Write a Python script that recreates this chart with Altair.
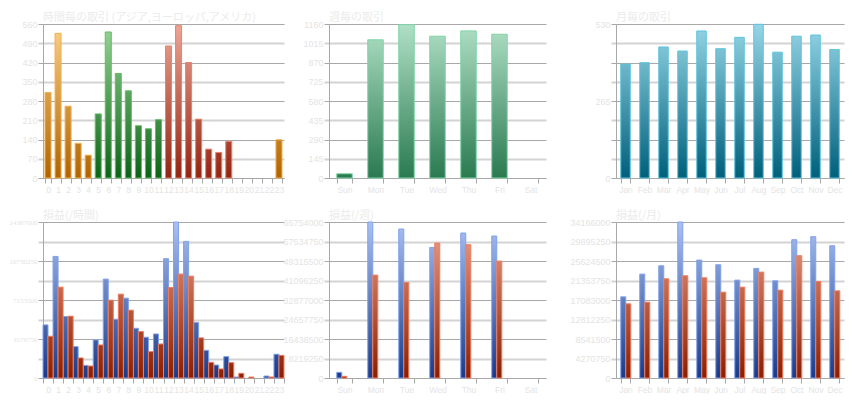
import altair as alt
import pandas as pd

# ---------------- data ----------------
hours = [str(h) for h in range(24)]
hour_region = ["asia"] * 5 + ["europe"] * 7 + ["america"] * 7 + ["america"] * 4 + ["asia"]
hour_trades = [311, 526, 261, 126, 83, 233, 531, 380, 317, 190, 179, 212,
               480, 554, 420, 214, 105, 93, 133, 0, 0, 0, 0, 139]

days = ["Sun", "Mon", "Tue", "Wed", "Thu", "Fri", "Sat"]
day_trades = [32, 1041, 1155, 1068, 1108, 1083, 0]

months = ["Jan", "Feb", "Mar", "Apr", "May", "Jun", "Jul", "Aug", "Sep", "Oct", "Nov", "Dec"]
month_trades = [392, 397, 451, 437, 506, 445, 484, 529, 433, 488, 492, 442]

hour_blue = [4870000, 11150000, 5640000, 2880000, 1160000, 3490000, 9070000, 5390000,
             7320000, 4560000, 3740000, 4040000, 10940000, 14300000, 12530000, 5090000,
             2540000, 1190000, 1960000, 90000, 0, 0, 180000, 2180000]
hour_red = [3830000, 8330000, 5670000, 1840000, 1100000, 3030000, 7140000, 7690000,
            6220000, 4260000, 2420000, 3120000, 8300000, 9530000, 9340000, 3680000,
            1440000, 830000, 1410000, 430000, 90000, 0, 90000, 2080000]

day_blue = [2390000, 65750000, 62800000, 55050000, 61110000, 59840000, 0]
day_red = [700000, 43370000, 40270000, 56880000, 56180000, 49280000, 0]

month_blue = [17780000, 22750000, 24580000, 34160000, 25830000, 24800000,
              21440000, 24000000, 21290000, 30290000, 30950000, 28970000]
month_red = [16240000, 16610000, 21730000, 22390000, 21950000, 18800000,
             19900000, 23190000, 19240000, 26780000, 21140000, 19090000]

titles = ["時間毎の取引 (アジア,ヨーロッパ,アメリカ)", "週毎の取引", "月毎の取引",
          "損益(/時間)", "損益(/週)", "損益(/月)"]

# ---------------- style ----------------
DARK = "#a8a8a8"
LIGHT = "#d3d3d3"
LABEL = "#e4e4e4"
TITLE = "#ebebeb"
H_TOP = 154
H_BOT = 156
FONT = "Liberation Sans"

PAL_HOUR = {"asia": ("#fbd08a", "#b06400", "#f6ae48"),
            "europe": ("#98d698", "#0a6414", "#62bd62"),
            "america": ("#f0a596", "#932410", "#e9826c")}
PAL_WEEK = {"w": ("#b0e0c6", "#2a7a50", "#80d4a6")}
PAL_MONTH = {"m": ("#96d6e6", "#005f7a", "#5cc4dd")}
PAL_PL = {"p": ("#a9c1f3", "#1a3a88", "#80a2ea"),
          "l": ("#eea28c", "#8a1e00", "#f07c5c")}


def y_axis(ymax, every, font=FONT, size=9):
    step = ymax / 8
    even = f"round(datum.value / {step}) % 2 === 0"
    return alt.Axis(
        values=[step * i for i in range(9)],
        format="d",
        labelExpr=f"round(datum.value / {step}) % {every} === 0 ? datum.label : ''",
        title=None,
        grid=True,
        gridColor={"condition": {"test": even, "value": DARK}, "value": LIGHT},
        gridWidth={"condition": {"test": even, "value": 1}, "value": 2},
        tickColor={"condition": {"test": even, "value": DARK}, "value": LIGHT},
        tickWidth={"condition": {"test": even, "value": 1}, "value": 2},
        tickSize=5,
        labelPadding=1,
        domainColor=DARK,
        labelColor=LABEL,
        labelFontSize=size,
        labelFont=font,
    )


def x_axis():
    return alt.Axis(title=None, grid=False, tickBand="extent", labelAngle=0,
                    labelOverlap=False, domainColor=DARK, tickColor=DARK,
                    tickSize=5, labelPadding=2, labelColor=LABEL,
                    labelFontSize=8.5, labelFont=FONT)


def pick(pal, i):
    keys = list(pal)
    e = f"'{pal[keys[-1]][i]}'"
    for k in reversed(keys[:-1]):
        e = f"(datum.k === '{k}' ? '{pal[k][i]}' : {e})"
    return e


def gradient_expr(ymax, pal):
    return ("{gradient: 'linear', x1: 0, x2: 0, y1: 1 - " + str(ymax) +
            " / datum.v, y2: 1, stops: [{offset: 0, color: " + pick(pal, 0) +
            "}, {offset: 1, color: " + pick(pal, 1) + "}]}")


def panel(df, cats, ymax, every, pal, title, width, height, pi, po,
          grouped=False, opi=0.0, yfont=FONT, ysize=9):
    enc = dict(
        x=alt.X("c:N", sort=cats,
                scale=alt.Scale(domain=cats, paddingInner=pi, paddingOuter=po),
                axis=x_axis()),
        y=alt.Y("v:Q", scale=alt.Scale(domain=[0, ymax], nice=False, zero=True),
                axis=y_axis(ymax, every, yfont, ysize)),
        color=alt.Color("g:N", scale=None),
        stroke=alt.Stroke("s:N", scale=None),
    )
    if grouped:
        enc["xOffset"] = alt.XOffset("k:N", sort=list(pal),
                                     scale=alt.Scale(domain=list(pal), paddingInner=opi))
    return (alt.Chart(df)
            .transform_filter("datum.v > 0")
            .transform_calculate(g=gradient_expr(ymax, pal), s=pick(pal, 2))
            .mark_bar(strokeWidth=1)
            .encode(**enc)
            .properties(width=width, height=height,
                        title=alt.TitleParams(title, frame="group", anchor="start")))


def spacer(w, h):
    return (alt.Chart(pd.DataFrame({"z": [0]}))
            .mark_point(opacity=0)
            .encode(x=alt.X("z:Q", axis=None), y=alt.Y("z:Q", axis=None))
            .properties(width=w, height=h))


df_hour = pd.DataFrame({"c": hours, "k": hour_region, "v": hour_trades})
df_day = pd.DataFrame({"c": days, "k": ["w"] * len(days), "v": day_trades})
df_month = pd.DataFrame({"c": months, "k": ["m"] * len(months), "v": month_trades})


def pl_frame(cats, blue, red):
    return pd.concat([
        pd.DataFrame({"c": cats, "k": ["p"] * len(cats), "v": blue}),
        pd.DataFrame({"c": cats, "k": ["l"] * len(cats), "v": red}),
    ], ignore_index=True)


a = panel(df_hour, hours, 560, 1, PAL_HOUR, titles[0], 241, H_TOP, 0.4, 0.2)
b = panel(df_day, days, 1160, 1, PAL_WEEK, titles[1], 217, H_TOP, 0.5, 0.25)
c = panel(df_month, months, 530, 4, PAL_MONTH, titles[2], 228, H_TOP, 0.5, 0.25)
d = panel(pl_frame(hours, hour_blue, hour_red), hours, 14307000, 2, PAL_PL,
          titles[3], 241, H_BOT, 0.0, 0.0, grouped=True, opi=0.0,
          yfont="Liberation Sans Narrow", ysize=7)
e = panel(pl_frame(days, day_blue, day_red), days, 65754000, 1, PAL_PL,
          titles[4], 217, H_BOT, 0.5, 0.25, grouped=True, opi=0.07)
f = panel(pl_frame(months, month_blue, month_red), months, 34166000, 1, PAL_PL,
          titles[5], 228, H_BOT, 0.5, 0.25, grouped=True, opi=0.05)

chart = (alt.concat(a, spacer(45, H_TOP), b, spacer(70, H_TOP), c,
                    d, spacer(45, H_BOT), e, spacer(70, H_BOT), f,
                    columns=5, spacing={"row": 44, "column": 0}, bounds="flush")
         .properties(padding={"left": 0, "top": 3, "right": 0, "bottom": 0})
         .configure_view(stroke="transparent")
         .configure_title(fontSize=11, color=TITLE, baseline="alphabetic",
                          font="Noto Sans CJK JP", fontWeight="normal", offset=-3))

chart.save("out.html", embed_options={"renderer": "svg", "actions": False})
